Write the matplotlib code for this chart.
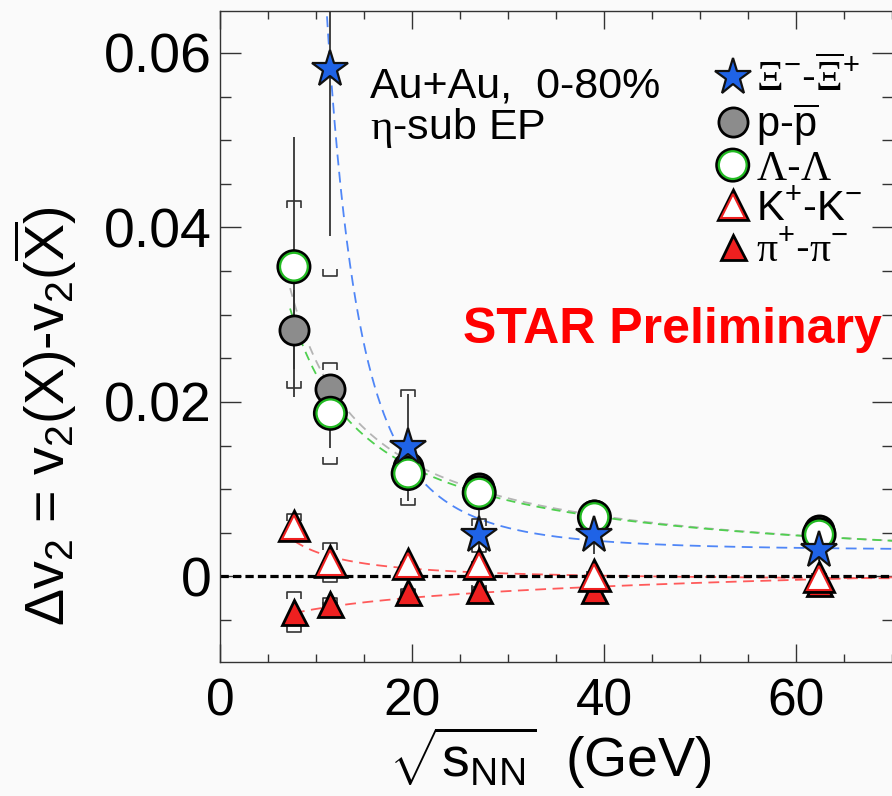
import matplotlib
matplotlib.use('Agg')
import numpy as np
import matplotlib.pyplot as plt
import matplotlib.patheffects as pe
from matplotlib.path import Path
from matplotlib.ticker import MultipleLocator, FuncFormatter

plt.rcParams['font.family'] = ['Liberation Sans', 'DejaVu Sans']
plt.rcParams['mathtext.fontset'] = 'custom'
plt.rcParams['mathtext.rm'] = 'Liberation Sans'
plt.rcParams['mathtext.it'] = 'Liberation Sans:italic'
plt.rcParams['mathtext.bf'] = 'Liberation Sans:bold'
plt.rcParams['mathtext.sf'] = 'Liberation Serif'

# ---- data ----
energy = [7.7, 11.5, 19.6, 27, 39, 62.4]

xi_x = [11.5, 19.6, 27, 39, 62.4]
xi_y = [0.0581, 0.0148, 0.0047, 0.0047, 0.0030]
xi_stat = [0.0191, 0.0061, 0.0037, 0.0021, 0.0012]
xi_sys = [0.0237, 0.0066, 0.0019, 0.0008, 0.0006]

p_y = [0.0283, 0.0215, 0.0125, 0.0101, 0.0070, 0.0053]
p_stat = [0.0045, 0.0010, 0.0008, 0.0005, 0.0004, 0.0004]
p_sys = [0.0067, 0.0006, 0.0008, 0.0005, 0.0004, 0.0004]

lam_y = [0.0355, 0.0187, 0.0118, 0.0096, 0.0068, 0.0048]
lam_stat = [0.0149, 0.0040, 0.0010, 0.0007, 0.0005, 0.0005]
lam_sys = [0.0075, 0.0058, 0.0008, 0.0005, 0.0004, 0.0004]

k_y = [0.0057, 0.0016, 0.0013, 0.0013, 0.0000, -0.0002]
k_stat = [0.0008, 0.0006, 0.0004, 0.0003, 0.0002, 0.0002]
k_sys = [0.0015, 0.0022, 0.0004, 0.0003, 0.0002, 0.0002]

pi_y = [-0.0041, -0.0031, -0.0018, -0.0015, -0.0016, -0.0008]
pi_stat = [0.0006, 0.0005, 0.0003, 0.0003, 0.0002, 0.0002]
pi_sys = [0.0023, 0.0006, 0.0004, 0.0003, 0.0002, 0.0002]

# fit parameters: y = a + b * x^-n  (pion: y = a + b*ln x)
xi_fit = (0.003, 137.0, 3.2)
p_fit = (0.0, 0.207, 0.923)
lam_fit = (0.0, 0.1805, 0.891)
k_fit = (-0.0005, 0.059, 1.25)
pi_fit = (-0.0080, 0.00186)

labels = [r'$\mathsf{\Xi}^{-}$-$\overline{\mathsf{\Xi}}^{+}$',
          r'p-$\overline{\rm p}$',
          r'$\mathsf{\Lambda}$-$\mathsf{\Lambda}$',
          r'K$^{+}$-K$^{-}$',
          r'$\mathsf{\pi}^{+}$-$\mathsf{\pi}^{-}$']

fig = plt.figure(figsize=(8.92, 7.96), dpi=100, facecolor='#fafafa')
ax = fig.add_axes([220 / 892, 1 - 662 / 796, 673 / 892, 651 / 796])
ax.set_facecolor('#fafafa')
ax.set_xlim(0, 70.1)
ax.set_ylim(-0.0098, 0.0648)


def powfit(par, lo, hi=75):
    xx = np.linspace(lo, hi, 400)
    a, b, n = par
    return xx, a + b * xx ** (-n)


# fit curves
xx, yy = powfit(xi_fit, 10.8)
ax.plot(xx, yy, color='#4f86f7', lw=1.3, ls=(0, (6, 3.6)), zorder=2)
xx, yy = powfit(p_fit, 7.3)
ax.plot(xx, yy, color='#b4b4b4', lw=1.3, ls=(0, (5, 3.5)), zorder=2)
xx, yy = powfit(lam_fit, 7.3)
ax.plot(xx, yy, color='#4fcf4f', lw=1.3, ls=(0, (5, 3.5)), zorder=2)
xx, yy = powfit(k_fit, 7.7)
ax.plot(xx, yy, color='#ff5a5a', lw=1.3, ls=(0, (6, 3.6)), zorder=2)
xx = np.linspace(7.7, 75, 400)
ax.plot(xx, pi_fit[0] + pi_fit[1] * np.log(xx), color='#ff5a5a', lw=1.3, ls=(0, (6, 3.6)), zorder=2)

ax.axhline(0, color='black', lw=2.3, ls=(0, (2.6, 1.3)), zorder=2.5)

# error bars
top_br = Path([(-1, -1), (-1, 0), (1, 0), (1, -1)],
              [Path.MOVETO, Path.LINETO, Path.LINETO, Path.LINETO])
bot_br = Path([(-1, 1), (-1, 0), (1, 0), (1, 1)],
              [Path.MOVETO, Path.LINETO, Path.LINETO, Path.LINETO])


def errs(x, y, stat, sys):
    x = np.array(x)
    y = np.array(y)
    ax.errorbar(x, y, yerr=stat, fmt='none', ecolor='#333333', elinewidth=1.3, capsize=0, zorder=3)
    ax.plot(x, y + np.array(sys), ls='none', marker=top_br, ms=9.5, mfc='none', mec='#333333', mew=1.2, zorder=3)
    ax.plot(x, y - np.array(sys), ls='none', marker=bot_br, ms=9.5, mfc='none', mec='#333333', mew=1.2, zorder=3)


errs(energy, p_y, p_stat, p_sys)
errs(energy, lam_y, lam_stat, lam_sys)
errs(energy, k_y, k_stat, k_sys)
errs(energy, pi_y, pi_stat, pi_sys)
errs(xi_x, xi_y, xi_stat, xi_sys)

# markers
h_p, = ax.plot(energy, p_y, ls='none', marker='o', ms=21, mfc='#8c8c8c', mec='black', mew=2, zorder=4)
h_lam, = ax.plot(energy, lam_y, ls='none', marker='o', ms=20, mfc='white', mec='#22bb22', mew=1.6, zorder=5,
                 path_effects=[pe.Stroke(linewidth=5.2, foreground='black'), pe.Normal()])
h_pi, = ax.plot(energy, pi_y, ls='none', marker='^', ms=18, mfc='#ee2020', mec='black', mew=2, zorder=6)
h_k, = ax.plot(energy, k_y, ls='none', marker='^', ms=17.5, mfc='white', mec='#ee2020', mew=1.5, zorder=7,
               path_effects=[pe.Stroke(linewidth=4.8, foreground='black'), pe.Normal()])
h_xi, = ax.plot(xi_x, xi_y, ls='none', marker='*', ms=28, mfc='#1f63e6', mec='#111111', mew=1.6, zorder=8)

# axes style
for s in ax.spines.values():
    s.set_color('#333333')
    s.set_linewidth(1.0)
ax.xaxis.set_major_locator(MultipleLocator(20))
ax.xaxis.set_minor_locator(MultipleLocator(5))
ax.yaxis.set_major_locator(MultipleLocator(0.02))
ax.yaxis.set_minor_locator(MultipleLocator(0.005))
ax.yaxis.set_major_formatter(FuncFormatter(lambda v, p: '0' if abs(v) < 1e-9 else '%.2f' % v))
ax.tick_params(which='both', direction='in', top=True, right=True, color='#333333', width=1.0)
ax.tick_params(axis='x', which='major', length=13, labelsize=37, pad=11)
ax.tick_params(axis='x', which='minor', length=6)
ax.tick_params(axis='y', which='major', length=15, labelsize=40, pad=6)
ax.tick_params(axis='y', which='minor', length=8)

fig.text(45 / 892, 1 - 416 / 796, r'$\Delta$v$_2$ = v$_2$(X)-v$_2$($\overline{\rm X}$)',
         rotation=90, ha='center', va='center', fontsize=40)
fig.text(550 / 892, 1 - 758 / 796, r'$\sqrt{\rm s_{NN}}$  (GeV)', ha='center', va='center', fontsize=40)

ax.text(15.6, 0.0549, 'Au+Au,  0-80%', fontsize=31, va='baseline')
ax.text(15.6, 0.0501, r'$\mathsf{\eta}$-sub EP', fontsize=31, va='baseline')
ax.text(25.3, 0.0268, 'STAR Preliminary', color='red', fontsize=36, fontweight='bold', va='baseline')

ax.legend([h_xi, h_p, h_lam, h_k, h_pi], labels, loc='upper left', bbox_to_anchor=(0.734, 0.929),
          frameon=False, fontsize=30, handlelength=0.9, handletextpad=0.1, labelspacing=0.02,
          borderpad=0, borderaxespad=0)

fig.savefig('out.png', dpi=100, facecolor=fig.get_facecolor())
